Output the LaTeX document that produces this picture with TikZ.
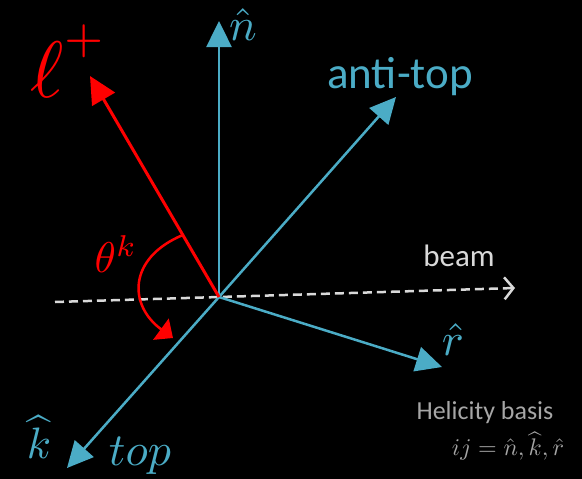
\documentclass[tikz,border=0pt]{standalone}
\usepackage{fontspec}
\setmainfont{Carlito}
\usepackage{amsmath}
\usetikzlibrary{arrows.meta}
\definecolor{axisblue}{HTML}{4BACC6}
\definecolor{beamgray}{HTML}{D9D9D9}
\definecolor{notegray}{HTML}{A6A6A6}

\begin{document}
\begin{tikzpicture}[
    x=1pt, y=-1pt,
    axis/.style={draw=axisblue, line width=2.5pt, -{Triangle[length=26pt,width=25pt]}},
    lepton/.style={draw=red, line width=3pt, -{Triangle[length=27pt,width=26pt]}},
    beamline/.style={draw=beamgray, line width=2.5pt, dash pattern=on 9pt off 5pt,
        -{Straight Barb[length=9pt,width=22pt,line width=2.5pt]}},
    anglearc/.style={draw=red, line width=2.5pt, -{Triangle[length=15pt,width=26pt]}},
    vlabel/.style={text=axisblue, inner sep=0pt}
]
    \fill[black] (0,0) rectangle (582,479);
    \useasboundingbox (0,0) rectangle (582,479);

    % frame vertices
    \coordinate (O) at (219,297);
    \coordinate (nTip) at (219,21);
    \coordinate (antiTip) at (396,97);
    \coordinate (rTip) at (442,367);
    \coordinate (kTip) at (67,468);
    \coordinate (lepTip) at (90,76);
    \coordinate (beamStart) at (55,302);
    \coordinate (beamTip) at (515,288);
    \coordinate (arcStart) at (182.8,235);
    \coordinate (arcEnd) at (173,338);

    \draw[beamline] (beamStart) -- (beamTip);

    \draw[axis] (O) -- (nTip);
    \draw[axis] (O) -- (antiTip);
    \draw[axis] (O) -- (rTip);
    \draw[axis] (O) -- (kTip);

    \draw[lepton] (O) -- (lepTip);
    \draw[anglearc] (arcStart) .. controls (128,258) and (128,305) .. (arcEnd);

    % math labels are scaled from 10pt
    \node[vlabel, scale=4.6] (nLabel) at (243,25) {$\hat{n}$};
    \node[vlabel, font=\fontsize{45}{45}\selectfont] (antiLabel) at (400,77) {anti-top};
    \node[vlabel, scale=4.6] (rLabel) at (453,340) {$\hat{r}$};
    \node[vlabel, scale=4.4] (kLabel) at (39,437) {$\widehat{k}$};
    \node[vlabel, scale=4.6] (topLabel) at (140,456) {$top$};

    \node[text=red, inner sep=0pt, scale=8] (lepLabel) at (69,61)
        {$\ell^{\raisebox{2pt}{\scalebox{0.8}{$\scriptstyle +$}}}$};
    \node[text=red, inner sep=0pt, scale=4.3] (thetaLabel) at (116,254) {$\theta^k$};

    \node[text=beamgray, inner sep=0pt, font=\fontsize{31}{31}\selectfont] (beamLabel) at (459,256) {beam};
    \node[text=notegray, inner sep=0pt, font=\fontsize{26}{26}\selectfont] (basisLabel) at (485,413) {Helicity basis};
    \node[text=notegray, inner sep=0pt, scale=2.4] (ijLabel) at (508,446) {$ij=\hat{n},\widehat{k},\hat{r}$};
\end{tikzpicture}
\end{document}
